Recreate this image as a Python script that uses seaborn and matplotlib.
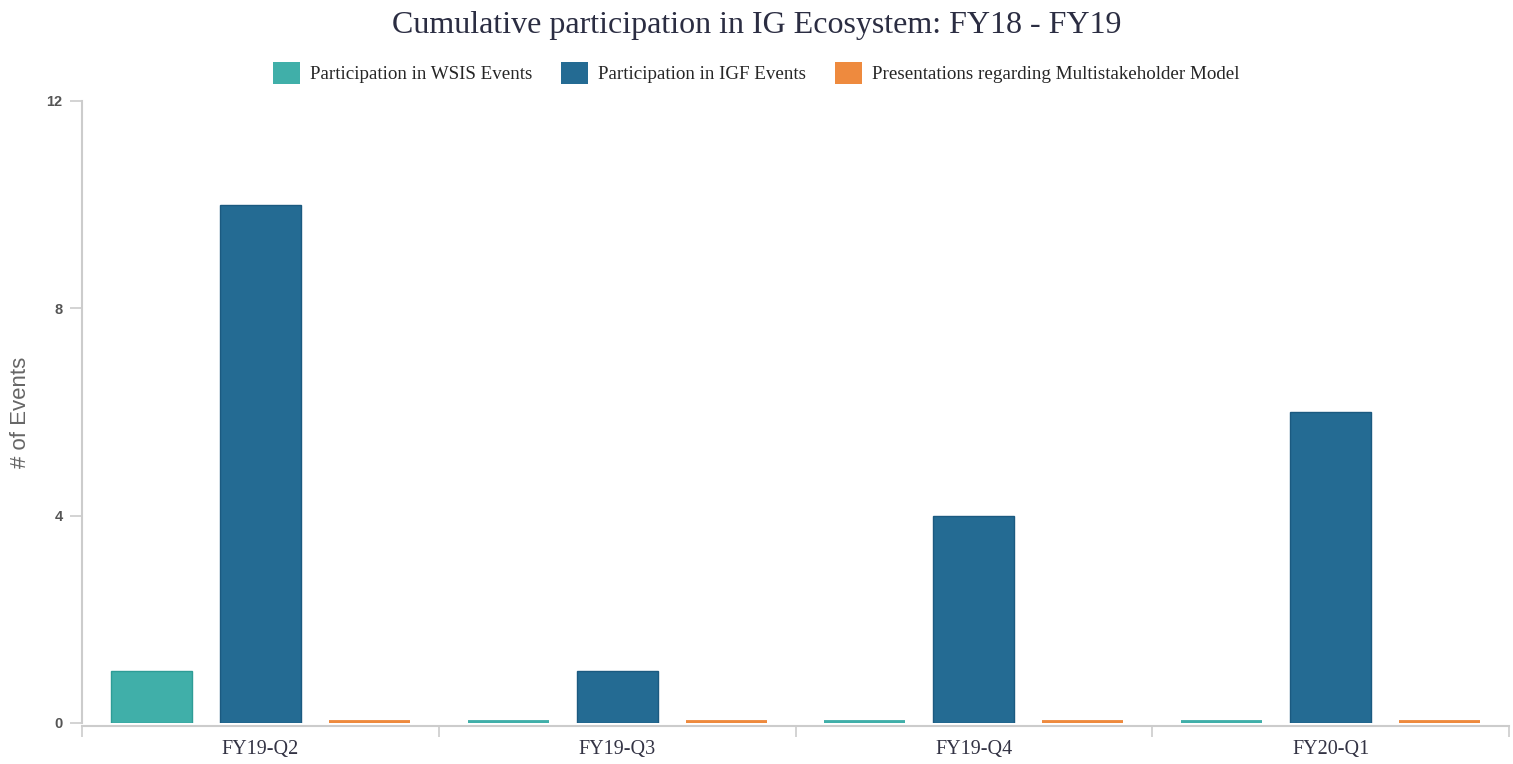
import matplotlib
matplotlib.use("Agg")
import matplotlib.pyplot as plt
import seaborn as sns
import pandas as pd

# Quarterly event counts per activity
quarters = ["FY19-Q2", "FY19-Q3", "FY19-Q4", "FY20-Q1"]
series_names = [
    "Participation in WSIS Events",
    "Participation in IGF Events",
    "Presentations regarding Multistakeholder Model",
]
wsis_events = [1, 0, 0, 0]
igf_events = [10, 1, 4, 6]
msm_presentations = [0, 0, 0, 0]
y_ticks = [0, 4, 8, 12]

colors = ["#40AFA9", "#246B93", "#EE8A3E"]
edge_colors = ["#2E9C96", "#1B5A80", "#E07A2C"]

df = pd.DataFrame({
    "quarter": quarters * 3,
    "series": [s for s in series_names for _ in quarters],
    "count": wsis_events + igf_events + msm_presentations,
})

sns.set_theme(style="white")
plt.rcParams["font.family"] = ["Liberation Serif", "DejaVu Serif"]

W, H = 1513, 764
fig = plt.figure(figsize=(W / 100, H / 100), dpi=100)
ax = fig.add_axes([82 / W, (H - 723) / H, (1509 - 82) / W, (723 - 101) / H])

sns.barplot(data=df, x="quarter", y="count", hue="series", order=quarters,
            hue_order=series_names, palette=colors, width=0.916, gap=0.257,
            saturation=1, errorbar=None, legend=False, ax=ax)

# outline bars; zero-height bars get a thick stroke so they stay visible
for i, container in enumerate(ax.containers):
    for patch in container.patches:
        if patch.get_height() == 0:
            patch.set_edgecolor(colors[i])
            patch.set_linewidth(4.2)
        else:
            patch.set_edgecolor(edge_colors[i])
            patch.set_linewidth(1.0)

ax.set_ylim(0, 12)
ax.set_xlim(-0.5, len(quarters) - 0.5)
ax.set_yticks(y_ticks)
ax.set_yticklabels([str(t) for t in y_ticks], family="Liberation Sans",
                   fontsize=10.5, color="#555555", fontweight="bold")

# category boundaries as ticks, labels centred in each band
ax.set_xticks([i - 0.5 for i in range(len(quarters) + 1)])
ax.set_xticklabels([])
ax.set_xticks(range(len(quarters)), minor=True)
ax.set_xticklabels(quarters, minor=True)
ax.tick_params(axis="x", which="major", length=8, width=1.2, color="#cccccc",
               direction="out", bottom=True)
ax.tick_params(axis="x", which="minor", length=0, pad=10, bottom=True,
               labelsize=14.5, labelcolor="#333344")
ax.tick_params(axis="y", length=9, width=1.2, color="#cccccc", direction="out",
               left=True, pad=5)

for side in ["top", "right"]:
    ax.spines[side].set_visible(False)
for side in ["left", "bottom"]:
    ax.spines[side].set_color("#cccccc")
    ax.spines[side].set_linewidth(1.5)
ax.spines["bottom"].set_position(("outward", 2))

ax.set_xlabel("")
ax.set_ylabel("# of Events", family="Liberation Sans", fontsize=16,
              color="#666666")
ax.yaxis.label.set_va("center")
ax.yaxis.set_label_coords((21 - 82) / (1509 - 82), 0.5)

handles = [plt.Rectangle((0, 0), 1, 1, facecolor=c, edgecolor="none") for c in colors]
fig.legend(handles, series_names, loc="center", bbox_to_anchor=(0.5, 1 - 73 / H),
           ncol=3, frameon=False, fontsize=13.7, handlelength=1.4,
           handleheight=1.4, handletextpad=0.55, columnspacing=1.5)

fig.text(0.5, 1 - 25 / H, "Cumulative participation in IG Ecosystem: FY18 - FY19",
         ha="center", va="center", fontsize=23, color="#2b2d42")

fig.savefig("out.png", dpi=100, facecolor="white")
